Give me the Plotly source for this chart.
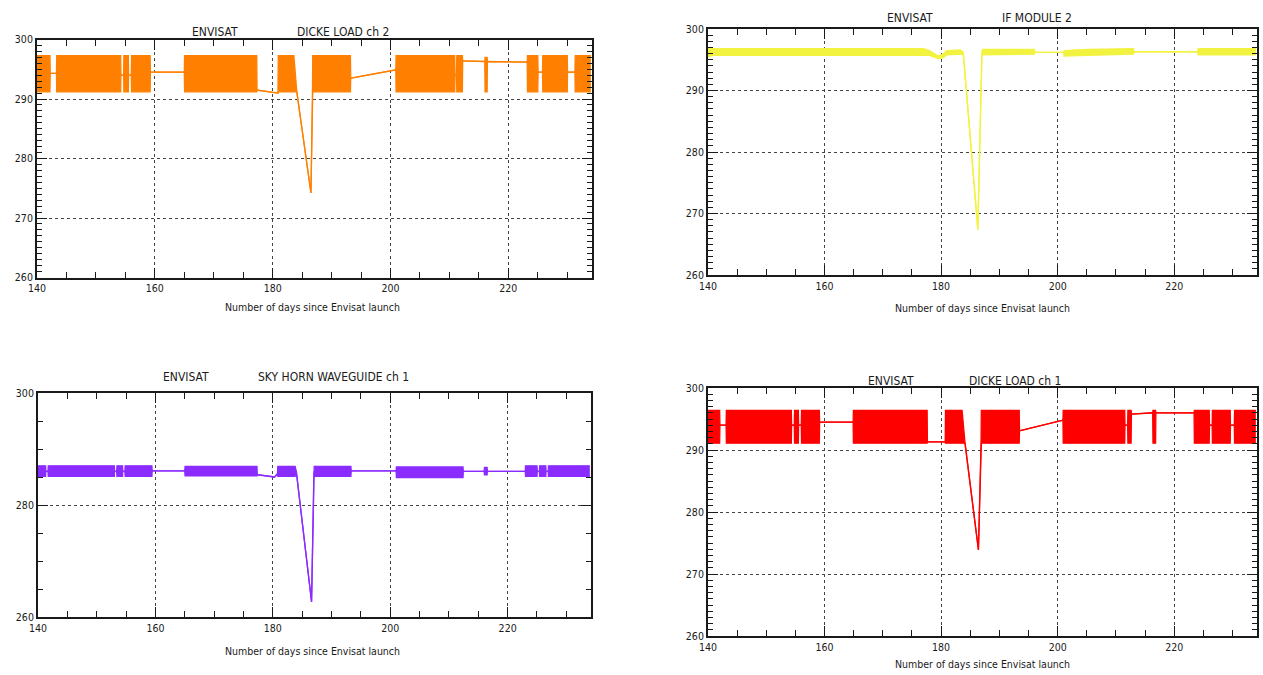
import plotly.graph_objects as go

# ---------------- data (day since launch, band low, band high) ----------------
# Panel 1: ENVISAT DICKE LOAD ch 2 (orange)
P1_day = [140.0, 142.2, 142.25, 143.3, 143.35, 154.2, 154.25, 154.7, 154.75, 155.5, 155.55, 156.0,
          156.05, 159.2, 159.25, 165.0, 165.05, 177.3, 177.35, 180.9, 180.95, 183.6, 184.1, 186.5,
          186.75, 186.8, 193.2, 193.25, 200.9, 200.95, 210.9, 210.95, 211.2, 211.25, 212.2, 212.25,
          216.0, 216.05, 216.4, 216.45, 223.2, 223.25, 225.0, 225.05, 225.8, 225.85, 230.0, 230.05,
          231.3, 231.35, 234.0]
P1_lo = [291.2, 291.2, 294.3, 294.3, 291.2, 291.2, 294.0, 294.0, 291.2, 291.2, 294.0, 294.0,
         291.2, 291.2, 294.5, 294.5, 291.2, 291.2, 291.5, 291.0, 291.2, 291.2, 291.2, 274.2,
         291.2, 291.2, 291.2, 293.5, 294.9, 291.2, 291.2, 294.0, 294.0, 291.2, 291.2, 296.4,
         296.3, 291.2, 291.2, 296.3, 296.2, 291.2, 291.2, 294.5, 294.5, 291.2, 291.2, 294.5,
         294.5, 291.2, 291.2]
P1_hi = [297.3, 297.3, 294.3, 294.3, 297.3, 297.3, 294.0, 294.0, 297.3, 297.3, 294.0, 294.0,
         297.3, 297.3, 294.5, 294.5, 297.3, 297.3, 291.5, 291.0, 297.3, 297.3, 291.2, 274.2,
         291.2, 297.3, 297.3, 293.5, 294.9, 297.3, 297.3, 294.0, 294.0, 297.3, 297.3, 296.4,
         296.3, 297.0, 297.0, 296.3, 296.2, 297.3, 297.3, 294.5, 294.5, 297.3, 297.3, 294.5,
         294.5, 297.3, 297.3]

# Panel 2: ENVISAT IF MODULE 2 (yellow)
P2_day = [140.0, 141.0, 177.0, 178.0, 179.5, 180.3, 181.0, 182.5, 183.3, 183.8, 186.3, 187.0,
          187.1, 196.0, 196.1, 201.0, 201.1, 205.0, 213.0, 213.1, 224.0, 224.1, 234.0]
P2_lo = [295.5, 295.7, 295.7, 295.7, 295.2, 295.3, 295.8, 295.9, 295.9, 295.9, 267.3, 295.9,
         295.8, 295.9, 296.2, 296.2, 295.6, 295.7, 295.9, 296.3, 296.3, 295.8, 295.8]
P2_hi = [297.0, 296.8, 296.8, 296.5, 295.6, 295.9, 296.5, 296.6, 296.6, 296.2, 267.6, 296.2,
         296.7, 296.7, 296.2, 296.2, 296.5, 296.7, 296.8, 296.3, 296.3, 296.8, 296.8]

# Panel 3: ENVISAT SKY HORN WAVEGUIDE ch 1 (purple)
P3_day = [140.0, 141.3, 141.35, 141.7, 141.75, 153.0, 153.05, 153.4, 153.45, 154.4, 154.45, 154.8,
          154.85, 159.4, 159.45, 165.0, 165.05, 177.3, 177.35, 180.3, 180.8, 180.85, 183.8, 184.0,
          186.6, 187.0, 187.05, 193.3, 193.35, 201.0, 201.05, 212.4, 212.45, 216.0, 216.05, 216.5,
          216.55, 223.0, 223.05, 225.0, 225.05, 225.4, 225.45, 226.5, 226.55, 226.9, 226.95, 234.0]
P3_lo = [285.1, 285.1, 286.0, 286.0, 285.1, 285.1, 286.0, 286.0, 285.1, 285.1, 286.0, 286.0,
         285.1, 285.1, 286.1, 286.1, 285.2, 285.2, 285.4, 285.0, 285.6, 285.1, 285.1, 286.0,
         262.7, 286.0, 285.1, 285.1, 286.1, 286.1, 284.9, 284.9, 286.0, 286.0, 285.4, 285.4,
         286.0, 286.0, 285.1, 285.1, 286.0, 286.0, 285.1, 285.1, 286.0, 286.0, 285.1, 285.1]
P3_hi = [287.0, 287.0, 286.0, 286.0, 287.0, 287.0, 286.0, 286.0, 287.0, 287.0, 286.0, 286.0,
         287.0, 287.0, 286.1, 286.1, 286.9, 286.9, 285.4, 285.0, 285.6, 286.9, 286.9, 286.0,
         262.7, 286.0, 286.9, 286.9, 286.1, 286.1, 286.8, 286.8, 286.0, 286.0, 286.7, 286.7,
         286.0, 286.0, 287.0, 287.0, 286.0, 286.0, 287.0, 287.0, 286.0, 286.0, 287.0, 287.0]

# Panel 4: ENVISAT DICKE LOAD ch 1 (red)
P4_day = [140.0, 142.0, 142.05, 143.1, 143.15, 154.3, 154.35, 154.8, 154.85, 155.5, 155.55, 156.0,
          156.05, 159.1, 159.15, 164.9, 164.95, 177.6, 177.65, 180.7, 180.75, 183.6, 184.1, 186.4,
          186.85, 186.9, 193.4, 193.45, 200.9, 200.95, 211.5, 211.55, 212.0, 212.05, 212.6, 212.65,
          216.3, 216.35, 216.8, 216.85, 223.4, 223.45, 226.0, 226.05, 226.5, 226.55, 229.6, 229.65,
          230.3, 230.35, 234.0]
P4_lo = [291.1, 291.1, 294.0, 294.0, 291.1, 291.1, 294.0, 294.0, 291.1, 291.1, 294.0, 294.0,
         291.1, 291.1, 294.5, 294.5, 291.1, 291.1, 291.3, 291.3, 291.1, 291.1, 291.1, 273.9,
         291.1, 291.1, 291.1, 293.1, 294.8, 291.1, 291.1, 294.0, 294.0, 291.1, 291.1, 295.8,
         296.0, 291.1, 291.1, 296.0, 296.0, 291.1, 291.1, 294.0, 294.0, 291.1, 291.1, 294.0,
         294.0, 291.1, 291.1]
P4_hi = [296.4, 296.4, 294.0, 294.0, 296.4, 296.4, 294.0, 294.0, 296.4, 296.4, 294.0, 294.0,
         296.4, 296.4, 294.5, 294.5, 296.4, 296.4, 291.3, 291.3, 296.4, 296.4, 291.1, 273.9,
         291.1, 296.4, 296.4, 293.1, 294.8, 296.4, 296.4, 294.0, 294.0, 296.4, 296.4, 295.8,
         296.0, 296.4, 296.4, 296.0, 296.0, 296.4, 296.4, 294.0, 294.0, 296.4, 296.4, 294.0,
         294.0, 296.4, 296.4]

X_TICKS = [140, 160, 180, 200, 220]
X_MINOR_DTICK = 5

PANELS = [
    dict(day=P1_day, lo=P1_lo, hi=P1_hi, color="#FF8000", t1="ENVISAT", t2="DICKE LOAD ch 2",
         ydtick=10, yminor=1),
    dict(day=P2_day, lo=P2_lo, hi=P2_hi, color="#F2F240", t1="ENVISAT", t2="IF MODULE 2",
         ydtick=10, yminor=1),
    dict(day=P3_day, lo=P3_lo, hi=P3_hi, color="#8A2BFF", t1="ENVISAT", t2="SKY HORN WAVEGUIDE ch 1",
         ydtick=20, yminor=5),
    dict(day=P4_day, lo=P4_lo, hi=P4_hi, color="#FF0000", t1="ENVISAT", t2="DICKE LOAD ch 1",
         ydtick=10, yminor=1),
]

# ---------------- layout geometry (pixels in a 1263x675 page) ----------------
W, H = 1263, 675
FRAMES = [  # left, right, top, bottom
    (37, 592, 39.5, 277.5),
    (708, 1257, 29, 275),
    (38, 591, 393, 617),
    (708, 1257, 388, 636),
]
TITLE_POS = [((215, 343), 32), ((910, 1037), 18), ((186, 333), 377), ((891, 1015), 381)]
XTITLE_POS = [(312, 307), (982, 308), (312, 651), (982, 664)]

FONT = "DejaVu Sans Condensed, Liberation Sans Narrow, Arial Narrow, sans-serif"
INK = "#1a1a1a"
X_RANGE = [140, 234.2]
Y_RANGE = [260, 300]

fig = go.Figure()
layout = dict(
    width=W, height=H, margin=dict(l=0, r=0, t=0, b=0, autoexpand=False),
    paper_bgcolor="white", plot_bgcolor="white", showlegend=False,
    font=dict(family=FONT, size=10, color=INK),
)
annotations = []


def x_common(**kw):
    d = dict(range=X_RANGE, tickmode="array", tickvals=X_TICKS, automargin=False,
             ticks="inside", ticklen=10, tickwidth=1.3, tickcolor=INK,
             showline=True, linecolor=INK, linewidth=2, mirror="ticks", zeroline=False,
             minor=dict(dtick=X_MINOR_DTICK, ticks="inside", ticklen=6, tickwidth=1.3,
                        tickcolor=INK),
             tickfont=dict(family=FONT, size=10.5, color=INK), fixedrange=True)
    d.update(kw)
    return d


def y_common(dtick, minor, **kw):
    d = dict(range=Y_RANGE, tickmode="linear", tick0=260, dtick=dtick, automargin=False,
             ticks="inside", ticklen=10, tickwidth=1.3, tickcolor=INK,
             showline=True, linecolor=INK, linewidth=2, mirror="ticks", zeroline=False,
             minor=dict(dtick=minor, ticks="inside", ticklen=5, tickwidth=1.3, tickcolor=INK),
             tickfont=dict(family=FONT, size=10.5, color=INK), fixedrange=True)
    d.update(kw)
    return d


for i, p in enumerate(PANELS):
    n = i + 1
    m = n + 4  # overlay axes carrying the opposite-side tick marks
    xa = "x" if n == 1 else f"x{n}"
    ya = "y" if n == 1 else f"y{n}"
    l, r, t, b = FRAMES[i]
    xdom = [l / W, r / W]
    ydom = [1 - b / H, 1 - t / H]
    fig.add_trace(go.Scatter(x=p["day"], y=p["lo"], mode="lines", xaxis=xa, yaxis=ya,
                             line=dict(color=p["color"], width=1.3), hoverinfo="skip"))
    fig.add_trace(go.Scatter(x=p["day"], y=p["hi"], mode="lines", xaxis=xa, yaxis=ya,
                             line=dict(color=p["color"], width=1.3), fill="tonexty",
                             fillcolor=p["color"], hoverinfo="skip"))
    fig.add_trace(go.Scatter(x=[], y=[], mode="lines", xaxis=f"x{m}", yaxis=f"y{m}",
                             hoverinfo="skip"))
    xkey = "xaxis" if n == 1 else f"xaxis{n}"
    ykey = "yaxis" if n == 1 else f"yaxis{n}"
    layout[xkey] = x_common(domain=xdom, anchor=ya, showgrid=True, gridcolor="#444",
                            griddash="dot", gridwidth=1)
    layout[ykey] = y_common(p["ydtick"], p["yminor"], domain=ydom, anchor=xa, showgrid=True,
                            gridcolor="#444", griddash="dot", gridwidth=1)
    layout[f"xaxis{m}"] = x_common(overlaying=xa, side="top", anchor=f"y{m}", showgrid=False,
                                   showticklabels=False)
    layout[f"yaxis{m}"] = y_common(p["ydtick"], p["yminor"], overlaying=ya, side="right",
                                   anchor=f"x{m}", showgrid=False, showticklabels=False)
    (cx1, cx2), ty = TITLE_POS[i]
    for txt, cx in ((p["t1"], cx1), (p["t2"], cx2)):
        annotations.append(dict(text=txt, x=cx / W, y=1 - ty / H, xref="paper", yref="paper",
                                showarrow=False, xanchor="center", yanchor="middle",
                                font=dict(family=FONT, size=12, color=INK)))
    tx, tyy = XTITLE_POS[i]
    annotations.append(dict(text="Number of days since Envisat launch", x=tx / W, y=1 - tyy / H,
                            xref="paper", yref="paper", showarrow=False, xanchor="center",
                            yanchor="middle", font=dict(family=FONT, size=10.5, color=INK)))

layout["annotations"] = annotations
fig.update_layout(**layout)
fig.write_html("out.html")
